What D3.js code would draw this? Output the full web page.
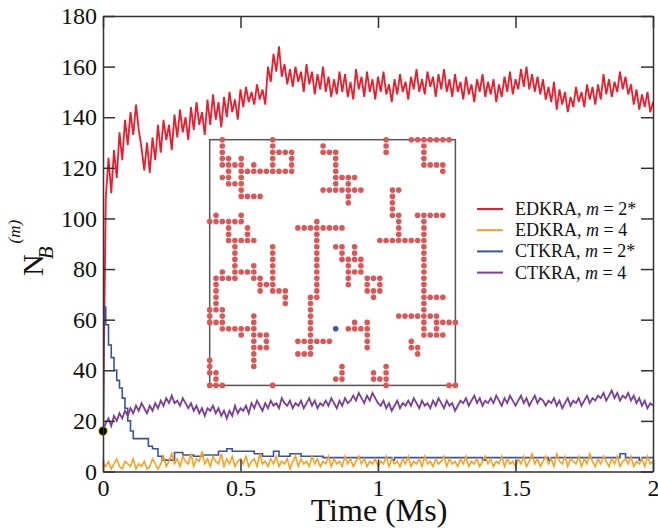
<!DOCTYPE html>
<html>
<head>
<meta charset="utf-8">
<script src="https://cdnjs.cloudflare.com/ajax/libs/d3/7.8.5/d3.min.js"></script>
<style>
  body { margin: 0; background: #fff; }
  svg { display: block; font-family: "Liberation Serif", "Times New Roman", serif; }
  svg text { font-family: "Liberation Serif", "Times New Roman", serif !important; }
</style>
</head>
<body>
<div id="chart"></div>
<script>
// tick values
const timeTicks = [0, 0.5, 1, 1.5, 2];
const countTicks = [0, 20, 40, 60, 80, 100, 120, 140, 160, 180];

// EDKRA, m = 2*  (sampled every 0.01 Ms)
const edkra2 = [16,
  108, 124,
  110, 127, 116, 134, 123, 139, 129, 142, 133, 145, 135, 128,
  119, 130, 118, 132, 123, 137, 126, 139, 131, 137, 127, 141,
  132, 143, 134, 140, 131, 144, 135, 146, 137, 142, 133, 147,
  137, 149, 139, 146, 136, 148, 140, 150, 142, 147, 139, 151,
  144, 152, 146, 150, 145, 153, 147, 151, 145, 160, 154, 165,
  158, 168, 156, 161, 153, 159, 152, 160, 154, 158, 150, 161,
  153, 158, 149, 157, 151, 160, 150, 156, 148, 155, 149, 158,
  150, 157, 148, 154, 147, 159, 151, 156, 148, 158, 150, 155,
  147, 156, 150, 158, 149, 153, 146, 155, 149, 157, 150, 154,
  147, 156, 151, 159, 150, 155, 149, 158, 152, 156, 148, 157,
  151, 159, 150, 155, 148, 157, 150, 154, 147, 156, 149, 153,
  146, 155, 150, 157, 148, 154, 149, 155, 146, 153, 148, 156,
  150, 158, 149, 155, 151, 159, 152, 160, 151, 157, 150, 156,
  149, 155, 147, 152, 146, 154, 143, 151, 145, 150, 142, 148,
  144, 152, 146, 150, 144, 153, 147, 152, 145, 153, 147, 157,
  149, 155, 148, 154, 150, 158, 151, 156, 149, 153, 145, 151,
  143, 149, 144, 150, 142, 146];

// EDKRA, m = 4
const edkra4 = [3,
  2, 4, 1, 3, 5, 2, 1, 4, 3, 2, 5, 1, 3, 2, 4, 1, 2, 5, 3, 1,
  3, 6, 2, 4, 7, 3, 5, 2, 6, 4, 3, 7, 2, 5, 4, 8, 3, 5, 2, 6,
  4, 3, 7, 2, 5, 3, 6, 2, 4, 5,
  3, 6, 2, 4, 5, 2, 7, 3, 4, 2, 5, 3, 6, 2, 4, 3, 5, 1, 4, 6,
  2, 5, 3, 4, 2, 6, 3, 5, 2, 4, 3, 6, 2, 5, 3, 4, 2, 6, 3, 5,
  2, 4, 6, 3, 5, 2, 4, 3, 5, 2,
  4, 3, 6, 2, 5, 3, 4, 2, 5, 3, 6, 2, 4, 3, 5, 2, 6, 3, 4, 2,
  5, 3, 4, 6, 2, 5, 3, 4, 2, 5, 3, 6, 2, 4, 3, 5, 2, 4, 6, 3,
  5, 2, 4, 3, 6, 2, 5, 3, 4, 2,
  5, 3, 6, 2, 4, 7, 3, 5, 2, 4, 6, 3, 5, 2, 7, 4, 3, 6, 2, 5,
  4, 3, 6, 2, 5, 3, 7, 4, 2, 5, 3, 6, 4, 2, 5, 3, 6, 2, 4, 5,
  3, 6, 2, 4, 3, 5, 2, 6, 3, 4];

// CTKRA, m = 2*  (step function: change times and values)
const ctkra2Times = [0, 0.002, 0.01, 0.02, 0.03, 0.04, 0.05, 0.06, 0.07, 0.08, 0.09,
  0.10, 0.11, 0.165, 0.18, 0.20, 0.215, 0.26, 0.29, 0.33, 0.36,
  0.42, 0.45, 0.47, 0.55, 0.58, 0.62, 0.64, 0.68, 0.72, 0.80, 1.05, 1.06, 1.38, 1.39,
  1.62, 1.63, 1.88, 1.90, 1.95, 1.96, 2.0];
const ctkra2Vals = [16, 65, 58, 50, 45, 40, 36, 33, 29, 25, 20,
  16, 13, 10, 9, 6, 4.5, 7.5, 6.5, 6, 6.5,
  8, 9, 8, 7, 6, 8, 6, 7, 6, 5.5, 4.5, 5.5, 4.5, 5.5,
  4.5, 5.5, 7, 5.5, 4.5, 5.5, 5.5];

// CTKRA, m = 4
const ctkra4 = [16,
  19, 21, 18, 22, 20, 23, 21, 24, 22, 25,
  23, 26, 24, 27, 25, 23, 26, 24, 27, 25,
  28, 26, 29, 27, 30, 27, 28, 26, 29, 27,
  25, 27, 24, 26, 23, 25, 22, 25, 24, 26,
  23, 25, 22, 24, 21, 24, 22, 26, 23, 25,
  24, 26, 23, 27, 25, 28, 26, 24, 27, 25,
  28, 26, 27, 25, 29, 27, 26, 28, 25, 27,
  26, 28, 25, 27, 29, 26, 28, 25, 27, 26,
  28, 26, 29, 27, 25, 28, 26, 29, 27, 28,
  30, 28, 31, 29, 27, 30, 28, 31, 29, 27,
  26, 28, 25, 27, 24, 26, 28, 25, 27, 26,
  28, 26, 29, 27, 25, 28, 26, 27, 25, 28,
  26, 29, 27, 25, 28, 26, 27, 24, 26, 28,
  27, 29, 26, 28, 30, 27, 29, 26, 28, 27,
  29, 27, 30, 28, 26, 29, 27, 30, 28, 26,
  28, 30, 27, 29, 26, 28, 30, 27, 29, 28,
  26, 28, 27, 29, 26, 28, 25, 27, 29, 26,
  28, 27, 29, 26, 28, 30, 27, 29, 28, 30,
  29, 31, 28, 30, 32, 29, 31, 28, 30, 29,
  31, 28, 30, 27, 29, 26, 28, 25, 27, 26];

const legendLabels = ["EDKRA", "EDKRA", "CTKRA", "CTKRA"];
const legendM = ["2*", "4", "2*", "4"];
const colors = ["#ee1c2b", "#f9a11b", "#3953a4", "#7b3f9b"];

const startPoint = [0, 16];

// inset: occupied lattice sites, one list of columns per row (40 x 40)
const latticeSize = 40;
const latticeRows = [
  [2, 10, 28, 32, 33, 34, 35, 36, 37, 38],
  [2, 10, 18, 28, 34],
  [2, 10, 11, 12, 13, 18, 19, 20, 28, 34],
  [2, 3, 5, 10, 13, 20, 34],
  [2, 3, 4, 5, 7, 10, 13, 20, 34, 35, 36, 37],
  [3, 5, 6, 7, 8, 9, 10, 11, 12, 13, 20, 37],
  [2, 3, 5, 20, 21, 22, 23],
  [3, 4, 5, 20, 22],
  [5, 18, 19, 20, 21, 22, 23, 24, 29, 30],
  [5, 6, 7, 8, 22, 29],
  [22, 29],
  [29],
  [1, 5, 29, 30, 33, 34, 35, 36, 37],
  [0, 1, 2, 3, 4, 5, 17, 30, 34],
  [3, 6, 14, 15, 16, 17, 18, 19, 20, 21, 30, 34],
  [3, 6, 17, 30, 34],
  [3, 4, 5, 6, 7, 17, 27, 28, 29, 30, 31, 32, 33, 34],
  [4, 10, 17, 20, 21, 23, 34],
  [4, 10, 17, 21, 23, 34],
  [4, 10, 17, 21, 22, 23, 24, 34],
  [4, 7, 10, 17, 22, 24, 34],
  [2, 4, 5, 6, 7, 10, 17, 22, 23, 24, 34],
  [1, 2, 3, 4, 7, 8, 10, 17, 22, 25, 26, 27, 34],
  [1, 8, 9, 10, 17, 22, 25, 27, 34],
  [1, 8, 10, 11, 12, 17, 25, 26, 27, 34],
  [1, 12, 16, 17, 26, 34, 35, 36, 37],
  [1, 12, 16, 34],
  [0, 1, 2, 16, 34],
  [0, 2, 7, 16, 30, 31, 32, 33, 34, 35, 36],
  [0, 1, 2, 7, 16, 23, 25, 34, 36, 37, 38, 39],
  [2, 3, 4, 5, 6, 7, 16, 22, 23, 24, 25, 34, 36],
  [5, 7, 8, 9, 16, 25, 34, 35, 36, 37],
  [7, 9, 14, 15, 16, 17, 18, 19, 25, 32],
  [7, 8, 9, 16, 25, 32, 33],
  [7, 14, 15, 16, 33],
  [0, 7],
  [0, 7, 21, 28],
  [0, 1, 21, 26, 28],
  [1, 20, 21, 26, 27, 28],
  [0, 1, 2, 10, 28, 38, 39]
];
const seedSite = [20, 30];

function drawChart() {
  const width = 658, height = 528;
  const margin = { top: 16, right: 5, bottom: 56.5, left: 103 };
  const w = width - margin.left - margin.right;
  const h = height - margin.top - margin.bottom;
  const serif = 'Liberation Serif';

  const svg = d3.select('#chart').append('svg')
    .attr('width', width)
    .attr('height', height);

  const g = svg.append('g').attr('transform', `translate(${margin.left},${margin.top})`);

  const x = d3.scaleLinear().domain([0, 2]).range([0, w]);
  const y = d3.scaleLinear().domain([0, 180]).range([h, 0]);

  svg.append('defs').append('clipPath').attr('id', 'plotclip')
    .append('rect').attr('width', w).attr('height', h);

  // inset lattice
  const inset = g.append('g');
  const cell = d3.scaleLinear().domain([0, latticeSize - 1]).range([106.7, 352.4]);
  const cellY = d3.scaleLinear().domain([0, latticeSize - 1]).range([123.7, 369.4]);
  const sites = [];
  latticeRows.forEach((cols, r) => cols.forEach(c => sites.push([c, r])));
  inset.append('rect')
    .attr('x', cell(0)).attr('y', cellY(0))
    .attr('width', cell(latticeSize - 1) - cell(0))
    .attr('height', cellY(latticeSize - 1) - cellY(0))
    .attr('fill', 'none')
    .attr('stroke', '#555')
    .attr('stroke-width', 1.5);
  inset.selectAll('circle.site')
    .data(sites)
    .enter().append('circle')
    .attr('class', 'site')
    .attr('cx', d => cell(d[0]))
    .attr('cy', d => cellY(d[1]))
    .attr('r', 2.8)
    .attr('fill', '#dd5555');
  inset.append('circle')
    .attr('cx', cell(seedSite[0]))
    .attr('cy', cellY(seedSite[1]))
    .attr('r', 2.8)
    .attr('fill', '#4455aa');

  // series
  const regular = vals => vals.map((v, i) => [i * 2 / (vals.length - 1), v]);
  const line = d3.line().x(d => x(d[0])).y(d => y(d[1]));
  const stepLine = d3.line().x(d => x(d[0])).y(d => y(d[1])).curve(d3.curveStepAfter);

  const plot = g.append('g').attr('clip-path', 'url(#plotclip)');
  plot.append('path').datum(regular(edkra2))
    .attr('d', line).attr('fill', 'none').attr('stroke', colors[0]).attr('stroke-width', 1.8);
  plot.append('path').datum(ctkra2Times.map((t, i) => [t, ctkra2Vals[i]]))
    .attr('d', stepLine).attr('fill', 'none').attr('stroke', colors[2]).attr('stroke-width', 1.6);
  plot.append('path').datum(regular(ctkra4))
    .attr('d', line).attr('fill', 'none').attr('stroke', colors[3]).attr('stroke-width', 1.8);
  plot.append('path').datum(regular(edkra4))
    .attr('d', line).attr('fill', 'none').attr('stroke', colors[1]).attr('stroke-width', 1.6);

  g.append('circle')
    .attr('cx', x(startPoint[0]))
    .attr('cy', y(startPoint[1]))
    .attr('r', 4.5)
    .attr('fill', '#000')
    .attr('stroke', '#e8e020')
    .attr('stroke-width', 1.2);

  // axes (ticks point inward)
  const fmt = d => d3.format('')(d);
  const styleAxis = sel => {
    sel.attr('font-family', serif).attr('font-size', 24);
    sel.selectAll('path.domain').attr('stroke', '#333').attr('stroke-width', 1.5);
    sel.selectAll('.tick line').attr('stroke', '#333').attr('stroke-width', 1.5);
    sel.selectAll('.tick text').attr('fill', '#111').style('font-family', serif);
  };
  g.append('g').attr('transform', `translate(0,${h})`)
    .call(d3.axisBottom(x).tickValues(timeTicks).tickFormat(fmt).tickSizeInner(-12).tickSizeOuter(0).tickPadding(7))
    .call(styleAxis);
  g.append('g')
    .call(d3.axisTop(x).tickValues(timeTicks).tickFormat('').tickSizeInner(-12).tickSizeOuter(0))
    .call(styleAxis);
  g.append('g')
    .call(d3.axisLeft(y).tickValues(countTicks).tickSizeInner(-12).tickSizeOuter(0).tickPadding(6))
    .call(styleAxis);
  g.append('g').attr('transform', `translate(${w},0)`)
    .call(d3.axisRight(y).tickValues(countTicks).tickFormat('').tickSizeInner(-12).tickSizeOuter(0))
    .call(styleAxis);

  // axis labels
  svg.append('text')
    .attr('x', margin.left + w / 2 + 1)
    .attr('y', 521)
    .attr('text-anchor', 'middle')
    .style('font-size', '32px')
    .attr('fill', '#111')
    .text('Time (Ms)');

  const ylab = svg.append('text')
    .attr('transform', 'translate(43,276) rotate(-90)')
    .attr('fill', '#111')
    .style('font-size', '30px');
  ylab.append('tspan').text('N');
  ylab.append('tspan').attr('dx', -5).attr('dy', 10)
    .style('font-size', '21px').style('font-style', 'italic').text('B');
  ylab.append('tspan').attr('dx', 3).attr('dy', -33)
    .style('font-size', '17px').style('font-style', 'italic').text('(m)');

  // legend
  const legend = svg.append('g').attr('transform', 'translate(477,209)');
  const rows = legend.selectAll('g')
    .data(legendLabels)
    .enter().append('g')
    .attr('transform', (d, i) => `translate(0,${i * 21.2})`);
  rows.append('line')
    .attr('x1', 0).attr('x2', 26)
    .attr('stroke', (d, i) => colors[i])
    .attr('stroke-width', 2);
  const lt = rows.append('text')
    .attr('x', 38).attr('y', 6)
    .attr('fill', '#111')
    .style('font-size', '18px');
  lt.append('tspan').text(d => d + ', ');
  lt.append('tspan').style('font-style', 'italic').text('m');
  lt.append('tspan').text((d, i) => ' = ' + legendM[i]);
}

drawChart();
</script>
</body>
</html>
